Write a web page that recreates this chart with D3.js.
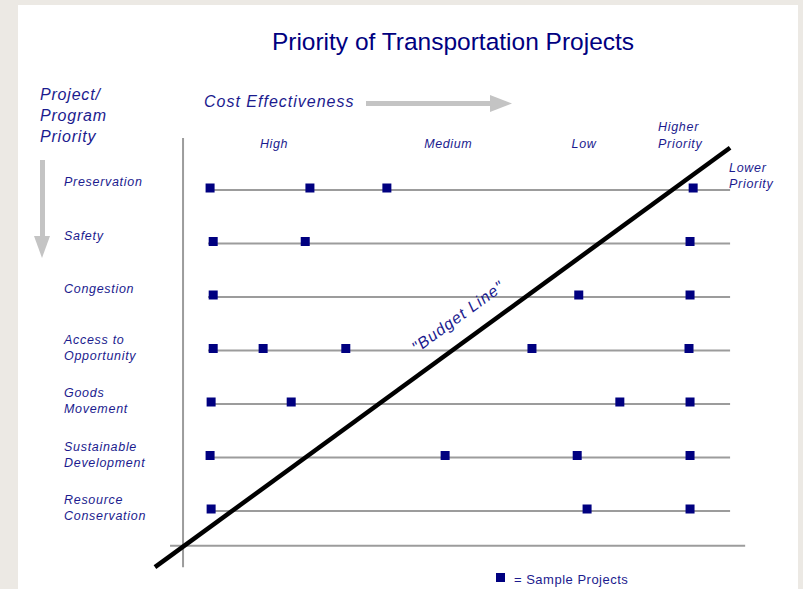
<!DOCTYPE html>
<html>
<head>
<meta charset="utf-8">
<script src="https://cdn.jsdelivr.net/npm/d3@7"></script>
<style>
  body { margin: 0; background: #ece9e4; }
  text { font-family: Arial, "Liberation Sans", sans-serif; }
</style>
</head>
<body>
<script>
// rows of the chart (top = highest program priority)
const rowLabels = [
  ['Preservation'],
  ['Safety'],
  ['Congestion'],
  ['Access to', 'Opportunity'],
  ['Goods', 'Movement'],
  ['Sustainable', 'Development'],
  ['Resource', 'Conservation']
]

// sample projects per row, cost effectiveness position (0 = highest, 100 = lowest)
const projects = [
  [0.4, 19.6, 34.4, 93.3],
  [1.0, 18.7, 92.7],
  [1.0, 71.3, 92.7],
  [1.0, 10.6, 26.5, 62.3, 92.5],
  [0.6, 16.0, 79.2, 92.7],
  [0.4, 45.6, 71.0, 92.7],
  [0.6, 72.9, 92.7]
]

const costTicks = ['High', 'Medium', 'Low']
const costTickValues = [12.7, 46.2, 72.3]

// budget line end points [cost, row]
const budgetLine = [[-10.2, 7.05], [100.4, -0.79]]

const width = 803
const height = 589
const navy = '#000080'
const textCol = '#1b1b8e'
const gray = '#9c9c9c'

const x = d3.scaleLinear().domain([0, 100]).range([208, 728])
const y = d3.scaleLinear().domain([0, 6]).range([190, 511])

const svg = d3.select('body').append('svg')
  .attr('width', width)
  .attr('height', height)

// white panel
svg.append('rect')
  .attr('x', 18).attr('y', 5)
  .attr('width', 780).attr('height', 584)
  .attr('fill', '#fff')

// title
svg.append('text')
  .attr('x', 453).attr('y', 50)
  .attr('text-anchor', 'middle')
  .attr('font-size', 24.5)
  .attr('fill', navy)
  .text('Priority of Transportation Projects')

// project / program priority heading
svg.append('text')
  .attr('font-size', 16)
  .attr('font-style', 'italic')
  .attr('fill', textCol)
  .attr('letter-spacing', 0.8)
  .selectAll('tspan')
  .data(['Project/', 'Program', 'Priority'])
  .join('tspan')
  .attr('x', 40)
  .attr('y', (d, i) => 100 + i * 21)
  .text(d => d)

// down arrow
svg.append('rect')
  .attr('x', 40).attr('y', 160)
  .attr('width', 5).attr('height', 78)
  .attr('fill', '#c4c4c4')
svg.append('path')
  .attr('d', 'M34,236 L50,236 L42,258 Z')
  .attr('fill', '#c4c4c4')

// cost effectiveness heading and arrow
svg.append('text')
  .attr('x', 204).attr('y', 107)
  .attr('font-size', 16)
  .attr('font-style', 'italic')
  .attr('letter-spacing', 1)
  .attr('fill', textCol)
  .text('Cost Effectiveness')
svg.append('rect')
  .attr('x', 366).attr('y', 101)
  .attr('width', 126).attr('height', 5)
  .attr('fill', '#c4c4c4')
svg.append('path')
  .attr('d', 'M490,95 L512,103.5 L490,112 Z')
  .attr('fill', '#c4c4c4')

// column labels
svg.append('g')
  .selectAll('text')
  .data(costTicks)
  .join('text')
  .attr('x', (d, i) => x(costTickValues[i]))
  .attr('y', 148)
  .attr('text-anchor', 'middle')
  .attr('font-size', 12.5)
  .attr('font-style', 'italic')
  .attr('letter-spacing', 0.6)
  .attr('fill', textCol)
  .text(d => d)

const multi = (lines, x0, y0, dy) => {
  const t = svg.append('text')
    .attr('font-size', 12.5)
    .attr('font-style', 'italic')
    .attr('letter-spacing', 0.7)
    .attr('fill', textCol)
  t.selectAll('tspan')
    .data(lines)
    .join('tspan')
    .attr('x', x0)
    .attr('y', (d, i) => y0 + i * dy)
    .text(d => d)
}
multi(['Higher', 'Priority'], 658, 131, 17)
multi(['Lower', 'Priority'], 729, 172, 16)

// row labels
rowLabels.forEach((lines, i) => {
  const y0 = lines.length === 1 ? y(i) - 4 : y(i) - 7
  multi(lines, 64, y0, 16)
})

// axes frame
svg.append('line')
  .attr('x1', x(-4.8)).attr('x2', x(-4.8))
  .attr('y1', y(-0.97)).attr('y2', y(7.05))
  .attr('stroke', gray).attr('stroke-width', 2)
svg.append('line')
  .attr('x1', x(-7.3)).attr('x2', x(103.3))
  .attr('y1', y(6.65)).attr('y2', y(6.65))
  .attr('stroke', gray).attr('stroke-width', 2)

// row lines
svg.append('g')
  .selectAll('line')
  .data(rowLabels)
  .join('line')
  .attr('x1', x(0)).attr('x2', x(100.4))
  .attr('y1', (d, i) => y(i)).attr('y2', (d, i) => y(i))
  .attr('stroke', gray).attr('stroke-width', 2)

// budget line
svg.append('path')
  .datum(budgetLine)
  .attr('d', d3.line().x(d => x(d[0])).y(d => y(d[1])))
  .attr('stroke', '#000').attr('stroke-width', 4.5)
  .attr('fill', 'none')

const ang = Math.atan2(y(budgetLine[1][1]) - y(budgetLine[0][1]), x(budgetLine[1][0]) - x(budgetLine[0][0])) * 180 / Math.PI
svg.append('text')
  .attr('transform', `translate(${x(48.7)},${y(2.45)}) rotate(${ang})`)
  .attr('text-anchor', 'middle')
  .attr('font-size', 16)
  .attr('font-style', 'italic')
  .attr('letter-spacing', 1)
  .attr('fill', textCol)
  .text('"Budget Line"')

// sample project markers
const pts = projects.flatMap((row, i) => row.map(v => ({row: i, v})))
svg.append('g')
  .selectAll('rect')
  .data(pts)
  .join('rect')
  .attr('x', d => x(d.v) - 4.5)
  .attr('y', d => y(d.row) - 6.5)
  .attr('width', 9).attr('height', 9)
  .attr('fill', navy)

// legend
svg.append('rect')
  .attr('x', 496).attr('y', 573)
  .attr('width', 9).attr('height', 9)
  .attr('fill', navy)
svg.append('text')
  .attr('x', 514).attr('y', 584)
  .attr('font-size', 13)
  .attr('letter-spacing', 0.5)
  .attr('fill', textCol)
  .text('= Sample Projects')
</script>
</body>
</html>
